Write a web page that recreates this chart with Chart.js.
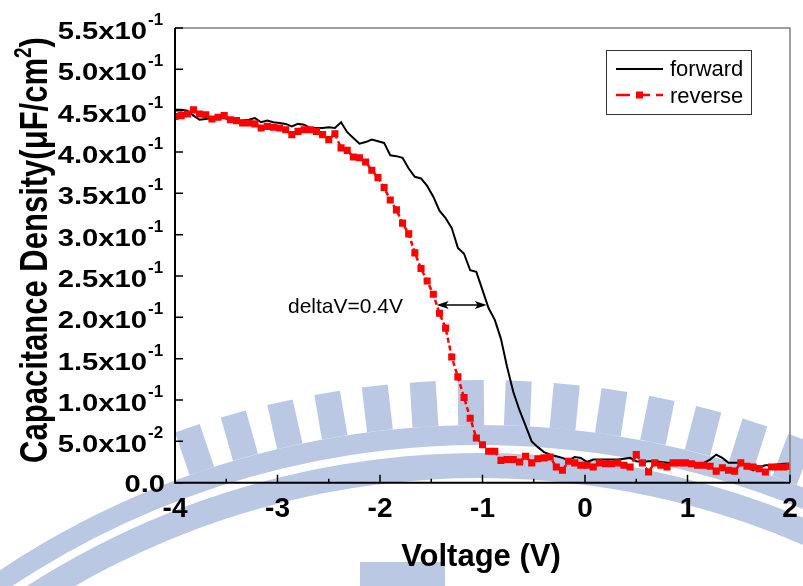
<!DOCTYPE html>
<html>
<head>
<meta charset="utf-8">
<script src="https://cdn.jsdelivr.net/npm/chart.js@4.4.0/dist/chart.umd.min.js"></script>
<style>
  html, body { margin: 0; padding: 0; background: #fff; }
  #wrap { width: 803px; height: 586px; position: relative; }
</style>
</head>
<body>
<div id="wrap"><canvas id="cvChart" width="803" height="586"></canvas></div>
<script>
// Gate voltage sweep (V)
const voltage = [
  -4.00,-3.94,-3.88,-3.82,-3.76,-3.70,-3.64,-3.58,-3.52,-3.46,
  -3.40,-3.34,-3.28,-3.22,-3.16,-3.10,-3.04,-2.98,-2.92,-2.86,
  -2.80,-2.74,-2.68,-2.62,-2.56,-2.50,-2.44,-2.38,-2.32,-2.26,
  -2.20,-2.14,-2.08,-2.02,-1.96,-1.90,-1.84,-1.78,-1.72,-1.66,
  -1.60,-1.54,-1.48,-1.42,-1.36,-1.30,-1.24,-1.18,-1.12,-1.06,
  -1.00,-0.94,-0.88,-0.82,-0.76,-0.70,-0.64,-0.58,-0.52,-0.46,
  -0.40,-0.34,-0.28,-0.22,-0.16,-0.10,-0.04, 0.02, 0.08, 0.14,
   0.20, 0.26, 0.32, 0.38, 0.44, 0.50, 0.56, 0.62, 0.68, 0.74,
   0.80, 0.86, 0.92, 0.98, 1.04, 1.10, 1.16, 1.22, 1.28, 1.34,
   1.40, 1.46, 1.52, 1.58, 1.64, 1.70, 1.76, 1.82, 1.88, 1.94,
   2.00
];

// Capacitance density (uF/cm^2), forward sweep
const forward = [
  0.451,0.451,0.450,0.444,0.439,0.440,0.441,0.441,0.441,0.439,
  0.438,0.438,0.439,0.441,0.436,0.438,0.436,0.435,0.434,0.431,
  0.434,0.433,0.429,0.429,0.429,0.430,0.429,0.436,0.424,0.417,
  0.410,0.412,0.415,0.413,0.411,0.396,0.395,0.393,0.380,0.370,
  0.368,0.359,0.346,0.329,0.320,0.308,0.284,0.277,0.257,0.255,
  0.233,0.211,0.197,0.174,0.140,0.110,0.088,0.069,0.050,0.043,
  0.037,0.034,0.032,0.030,0.027,0.031,0.030,0.025,0.028,0.028,
  0.028,0.028,0.028,0.029,0.030,0.026,0.025,0.026,0.026,0.025,
  0.024,0.024,0.024,0.023,0.023,0.021,0.024,0.028,0.034,0.030,
  0.024,0.024,0.024,0.020,0.015,0.019,0.021,0.021,0.022,0.023,
  0.023
];

// reverse sweep
const reverse = [
  0.443,0.444,0.446,0.451,0.446,0.445,0.440,0.442,0.444,0.439,
  0.438,0.435,0.435,0.434,0.429,0.431,0.430,0.429,0.427,0.421,
  0.425,0.427,0.427,0.425,0.421,0.415,0.422,0.405,0.402,0.394,
  0.393,0.388,0.378,0.369,0.357,0.342,0.330,0.314,0.301,0.278,
  0.259,0.244,0.228,0.205,0.187,0.152,0.128,0.103,0.078,0.054,
  0.046,0.038,0.038,0.027,0.028,0.028,0.025,0.032,0.024,0.029,
  0.030,0.031,0.019,0.015,0.026,0.024,0.021,0.021,0.019,0.024,
  0.023,0.023,0.024,0.021,0.019,0.034,0.024,0.013,0.024,0.021,
  0.019,0.024,0.024,0.024,0.023,0.021,0.021,0.020,0.014,0.018,
  0.015,0.014,0.024,0.020,0.019,0.017,0.013,0.019,0.019,0.019,
  0.020
];

const xTicks = [-4, -3, -2, -1, 0, 1, 2];
const xMinorTicks = [-3.5, -2.5, -1.5, -0.5, 0.5, 1.5];
const yTicks = [0, 0.05, 0.1, 0.15, 0.2, 0.25, 0.3, 0.35, 0.4, 0.45, 0.5, 0.55];
const yTickMain = ['0.0', '5.0x10', '1.0x10', '1.5x10', '2.0x10', '2.5x10', '3.0x10', '3.5x10', '4.0x10', '4.5x10', '5.0x10', '5.5x10'];
const yTickExp = ['', '-2', '-1', '-1', '-1', '-1', '-1', '-1', '-1', '-1', '-1', '-1'];
const seriesNames = ['forward', 'reverse'];
const annotationText = 'deltaV=0.4V';
const arrowFrom = -1.447, arrowTo = -0.959, arrowLevel = 0.215;

const FONT = '"Liberation Sans", Arial, Helvetica, sans-serif';

function stretchText(ctx, text, x, y, sx, align) {
    ctx.save();
    ctx.translate(x, y);
    ctx.scale(sx, 1);
    ctx.textAlign = align;
    ctx.fillText(text, 0, 0);
    ctx.restore();
}

// faint university emblem behind the plot
const watermark = {
    id: 'watermark',
    beforeDatasetsDraw(chart) {
        const ctx = chart.ctx;
        const cx = 480, cy = 1291;
        ctx.save();
        ctx.fillStyle = 'rgba(120,145,200,0.5)';
        // band under the teeth
        ctx.beginPath();
        ctx.arc(cx, cy, 866, Math.PI * 1.05, Math.PI * 1.95);
        ctx.arc(cx, cy, 846, Math.PI * 1.95, Math.PI * 1.05, true);
        ctx.closePath();
        ctx.fill();
        // lower band
        ctx.beginPath();
        ctx.arc(cx, cy, 838, Math.PI * 1.05, Math.PI * 1.95);
        ctx.arc(cx, cy, 813, Math.PI * 1.95, Math.PI * 1.05, true);
        ctx.closePath();
        ctx.fill();
        // teeth
        for (let k = 0; k < 14; k++) {
            const ang = -0.327 + k * 0.0528;
            ctx.save();
            ctx.translate(cx, cy);
            ctx.rotate(ang);
            ctx.fillRect(-13, -911, 26, 45);
            ctx.restore();
        }
        // centre block
        ctx.fillRect(360, 562, 85, 24);
        ctx.restore();
    }
};

// frame, inward ticks, labels, legend and the annotation
const decorations = {
    id: 'decorations',
    afterDraw(chart) {
        const ctx = chart.ctx;
        const a = chart.chartArea;
        const xs = chart.scales.x;
        const ys = chart.scales.y;
        ctx.save();

        // top / right frame
        ctx.strokeStyle = '#808080';
        ctx.lineWidth = 1.5;
        ctx.beginPath();
        ctx.moveTo(a.left, a.top);
        ctx.lineTo(a.right, a.top);
        ctx.lineTo(a.right, a.bottom);
        ctx.stroke();

        // left / bottom axes
        ctx.strokeStyle = '#000';
        ctx.lineWidth = 2;
        ctx.beginPath();
        ctx.moveTo(a.left, a.top);
        ctx.lineTo(a.left, a.bottom);
        ctx.lineTo(a.right, a.bottom);
        ctx.stroke();

        // ticks
        ctx.lineWidth = 1.5;
        ctx.beginPath();
        xTicks.forEach(v => {
            const px = xs.getPixelForValue(v);
            ctx.moveTo(px, a.bottom);
            ctx.lineTo(px, a.bottom - 8);
        });
        xMinorTicks.forEach(v => {
            const px = xs.getPixelForValue(v);
            ctx.moveTo(px, a.bottom);
            ctx.lineTo(px, a.bottom - 4);
        });
        yTicks.forEach(v => {
            const py = ys.getPixelForValue(v);
            ctx.moveTo(a.left, py);
            ctx.lineTo(a.left + 8, py);
        });
        ctx.stroke();

        // x tick labels
        ctx.fillStyle = '#000';
        ctx.font = 'bold 28px ' + FONT;
        ctx.textBaseline = 'alphabetic';
        xTicks.forEach(v => {
            const px = xs.getPixelForValue(v);
            stretchText(ctx, String(v), px, a.bottom + 34, 1, 'center');
        });

        // y tick labels with exponent
        yTicks.forEach((v, i) => {
            const py = ys.getPixelForValue(v);
            if (yTickExp[i]) {
                ctx.font = 'bold 23px ' + FONT;
                stretchText(ctx, yTickMain[i], 147, py + 11, 1.27, 'right');
                ctx.font = 'bold 17px ' + FONT;
                stretchText(ctx, yTickExp[i], 148, py - 3, 1, 'left');
            } else {
                ctx.font = 'bold 23px ' + FONT;
                stretchText(ctx, yTickMain[i], 165, py + 9, 1.27, 'right');
            }
        });

        // axis titles
        ctx.font = 'bold 31px ' + FONT;
        stretchText(ctx, 'Voltage (V)', 481, 566, 1, 'center');

        ctx.save();
        ctx.translate(47, 250);
        ctx.scale(1.25, 1);
        ctx.rotate(-Math.PI / 2);
        ctx.textAlign = 'left';
        const t1 = 'Capacitance Density(\u03BCF/cm';
        ctx.font = 'bold 31px ' + FONT;
        const w1 = ctx.measureText(t1).width;
        ctx.font = 'bold 19px ' + FONT;
        const w2 = ctx.measureText('2').width;
        ctx.font = 'bold 31px ' + FONT;
        const w3 = ctx.measureText(')').width;
        let sx = -(w1 + w2 + w3) / 2;
        ctx.fillText(t1, sx, 0);
        ctx.font = 'bold 19px ' + FONT;
        ctx.fillText('2', sx + w1, -13);
        ctx.font = 'bold 31px ' + FONT;
        ctx.fillText(')', sx + w1 + w2, 0);
        ctx.restore();

        // legend
        ctx.fillStyle = '#fff';
        ctx.fillRect(606.5, 50.5, 145, 64);
        ctx.strokeStyle = '#333';
        ctx.lineWidth = 1;
        ctx.strokeRect(606.5, 50.5, 145, 64);
        ctx.strokeStyle = '#000';
        ctx.lineWidth = 2;
        ctx.beginPath();
        ctx.moveTo(616, 69);
        ctx.lineTo(663, 69);
        ctx.stroke();
        ctx.strokeStyle = '#ff0000';
        ctx.lineWidth = 2.5;
        ctx.setLineDash([14, 6]);
        ctx.beginPath();
        ctx.moveTo(616, 95);
        ctx.lineTo(663, 95);
        ctx.stroke();
        ctx.setLineDash([]);
        ctx.fillStyle = '#ff0000';
        ctx.fillRect(636, 91.5, 7, 7);
        ctx.fillStyle = '#000';
        ctx.font = '22px ' + FONT;
        ctx.textAlign = 'left';
        ctx.fillText(seriesNames[0], 670, 76);
        ctx.fillText(seriesNames[1], 670, 102.5);

        // annotation
        ctx.font = '21px ' + FONT;
        ctx.fillText(annotationText, 288, 313);
        const ax1 = xs.getPixelForValue(arrowFrom);
        const ax2 = xs.getPixelForValue(arrowTo);
        const ay = ys.getPixelForValue(arrowLevel);
        ctx.strokeStyle = '#000';
        ctx.lineWidth = 1.5;
        ctx.beginPath();
        ctx.moveTo(ax1 + 4, ay);
        ctx.lineTo(ax2 - 4, ay);
        ctx.stroke();
        ctx.beginPath();
        ctx.moveTo(ax1, ay);
        ctx.lineTo(ax1 + 12, ay - 4);
        ctx.lineTo(ax1 + 9, ay);
        ctx.lineTo(ax1 + 12, ay + 4);
        ctx.closePath();
        ctx.moveTo(ax2, ay);
        ctx.lineTo(ax2 - 12, ay - 4);
        ctx.lineTo(ax2 - 9, ay);
        ctx.lineTo(ax2 - 12, ay + 4);
        ctx.closePath();
        ctx.fill();

        ctx.restore();
    }
};

const ctx = document.getElementById('cvChart').getContext('2d');
new Chart(ctx, {
    type: 'line',
    data: {
        datasets: [{
            label: seriesNames[1],
            data: voltage.map((v, i) => ({x: v, y: reverse[i]})),
            borderColor: '#ff0000',
            backgroundColor: '#ff0000',
            borderWidth: 2.5,
            borderDash: [5, 3],
            pointStyle: 'rect',
            pointRadius: 5,
            pointBorderWidth: 0,
            tension: 0
        }, {
            label: seriesNames[0],
            data: voltage.map((v, i) => ({x: v, y: forward[i]})),
            borderColor: '#000000',
            borderWidth: 2,
            pointRadius: 0,
            tension: 0
        }]
    },
    options: {
        responsive: false,
        devicePixelRatio: 1,
        animation: false,
        layout: { padding: { left: 0, top: 28, right: 13, bottom: 0 } },
        plugins: {
            legend: { display: false },
            tooltip: { enabled: false }
        },
        scales: {
            x: {
                type: 'linear',
                min: -4,
                max: 2,
                ticks: { display: false, stepSize: 1 },
                grid: { display: false },
                border: { display: false },
                afterFit: s => { s.height = 103.3; }
            },
            y: {
                min: 0,
                max: 0.55,
                ticks: { display: false, stepSize: 0.05 },
                grid: { display: false },
                border: { display: false },
                afterFit: s => { s.width = 175; }
            }
        }
    },
    plugins: [watermark, decorations]
});
</script>
</body>
</html>
